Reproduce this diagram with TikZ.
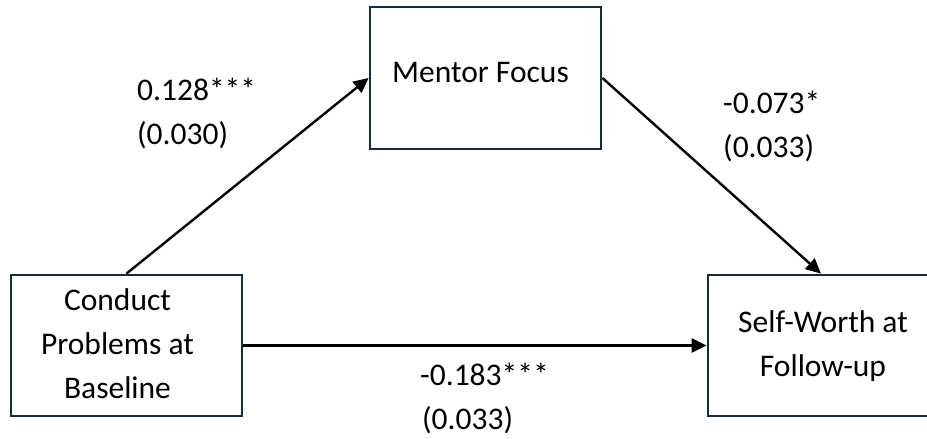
\documentclass[tikz,border=0pt]{standalone}
\usepackage{fontspec}
\setmainfont{Carlito}
\usetikzlibrary{arrows.meta}
\definecolor{boxnavy}{HTML}{162B40}
\begin{document}
\begin{tikzpicture}[x=1pt,y=-1pt,
  every node/.style={font=\fontsize{31.5}{44}\selectfont},
  varbox/.style={draw=boxnavy,line width=2.8pt,fill=white,align=center,inner sep=0pt},
  path/.style={line width=2.4pt,-{Triangle[length=15pt,width=14pt]}},
  coef/.style={anchor=base west,inner sep=0pt}]
\clip (0,0) rectangle (927,439);
\fill[white] (0,0) rectangle (927,439);
\node[varbox,minimum width=231pt,minimum height=142pt] (mentor) at (485.5,78)
  {\raisebox{5pt}[\height][\depth]{Mentor Focus}\hspace*{10pt}};
\node[varbox,minimum width=231pt,minimum height=141pt] (conduct) at (126.5,345.5)
  {\hspace*{-18pt}\begin{tabular}{@{}c@{}}Conduct\\Problems at\\Baseline\end{tabular}};
\node[varbox,minimum width=226pt,minimum height=141pt] (worth) at (821,345.5)
  {\hspace*{4pt}\begin{tabular}{@{}c@{}}Self-Worth at\\Follow-up\end{tabular}};
\draw[path] (conduct.north) -- (mentor.west);
\draw[path] (mentor.east) -- (worth.north);
\draw[path] (conduct.east) -- (worth.west);
\node[coef] (a1) at (137,100) {0.128***};
\node[coef] (a2) at (137,144) {(0.030)};
\node[coef] (b1) at (723,113) {-0.073*};
\node[coef] (b2) at (723,157) {(0.033)};
\node[coef] (c1) at (420,385) {-0.183***};
\node[coef] (c2) at (422,429) {(0.033)};
\end{tikzpicture}
\end{document}
